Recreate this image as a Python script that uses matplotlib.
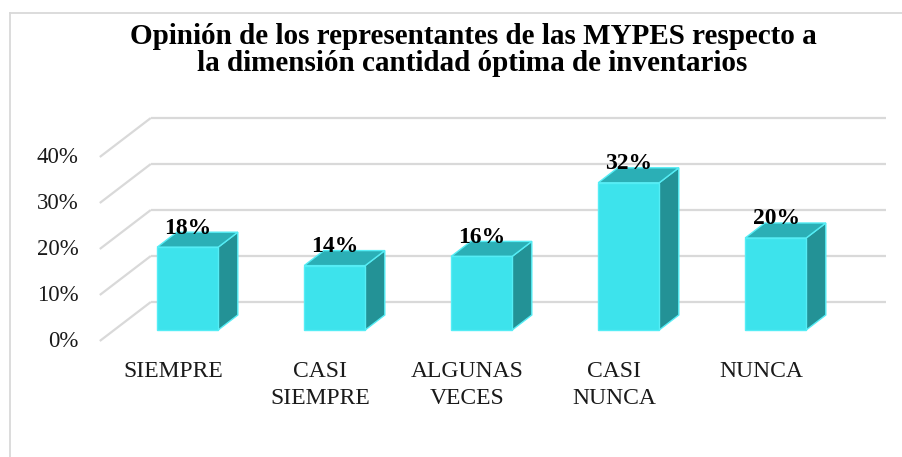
import matplotlib
matplotlib.use("Agg")
import matplotlib.pyplot as plt
from matplotlib.patches import Polygon
from matplotlib.lines import Line2D

# ---- data ----
categories = ["SIEMPRE", "CASI\nSIEMPRE", "ALGUNAS\nVECES", "CASI\nNUNCA", "NUNCA"]
values = [18, 14, 16, 32, 20]
value_labels = ["18%", "14%", "16%", "32%", "20%"]
y_ticks = [0, 10, 20, 30, 40]
y_tick_labels = ["0%", "10%", "20%", "30%", "40%"]
title_lines = ["Opinión de los representantes de las MYPES respecto a",
               "la dimensión cantidad óptima de inventarios"]

# ---- layout (pixel geometry of the pseudo-3D projection) ----
W, H = 902, 457
X0_PX, CAT_PX = 173.3, 147.0      # front-plane pixel of category 0, px per category
Y0_PX, PCT_PX = 341.0, 4.6        # front-plane pixel of 0 %, px per percent
DX = 51.0 / CAT_PX                # full depth offset (category units)
DY = 39.0 / PCT_PX                # full depth offset (percent units)
F1, F2 = 0.282, 0.667             # bar front / back depth fractions
BW = 0.415                        # bar front width (category units)

FONT = "Liberation Serif"
front_c = "#3DE3EC"
top_c = "#2BAFB6"
side_c = "#239296"
edge_c = "#55EDF5"
grid_c = "#D9D9D9"

fig = plt.figure(figsize=(W / 100, H / 100), dpi=100)
ax = fig.add_axes([0, 0, 1, 1])
ax.set_xlim(-X0_PX / CAT_PX, (W - X0_PX) / CAT_PX)
ax.set_ylim((Y0_PX - H) / PCT_PX, Y0_PX / PCT_PX)
ax.axis("off")

# chart border (cropped at right and bottom)
bx = 9.5 / W
by = 1 - 12.7 / H
fig.add_artist(Line2D([bx, bx], [0, by], color=grid_c, lw=1.3, transform=fig.transFigure))
fig.add_artist(Line2D([bx, 1], [by, by], color=grid_c, lw=1.3, transform=fig.transFigure))

# gridlines: left wall slant + back wall horizontal
xl, xr = -0.5, 4.5
for t in y_ticks:
    ax.plot([xl, xl + DX], [t, t + DY], color=grid_c, lw=1.6, zorder=1, solid_capstyle="butt")
    ax.plot([xl + DX, xr + DX], [t + DY, t + DY], color=grid_c, lw=1.6, zorder=1, solid_capstyle="butt")

# y tick labels
for t, lab in zip(y_ticks, y_tick_labels):
    ax.text(xl - 0.145, t - 0.2, lab, ha="right", va="center", fontsize=16.5,
            family=FONT, color="#1a1a1a")

# bars
for i, v in enumerate(values):
    cx = i + F1 * DX
    x1, x2 = cx - BW / 2, cx + BW / 2
    y1 = F1 * DY
    ddx, ddy = (F2 - F1) * DX, (F2 - F1) * DY
    side = [(x2, y1), (x2 + ddx, y1 + ddy), (x2 + ddx, y1 + v + ddy), (x2, y1 + v)]
    top = [(x1, y1 + v), (x2, y1 + v), (x2 + ddx, y1 + v + ddy), (x1 + ddx, y1 + v + ddy)]
    front = [(x1, y1), (x2, y1), (x2, y1 + v), (x1, y1 + v)]
    for poly, c in ((side, side_c), (top, top_c), (front, front_c)):
        ax.add_patch(Polygon(poly, closed=True, facecolor=c, edgecolor=edge_c,
                             lw=1.0, joinstyle="miter", zorder=3))
    ax.text(cx + 0.003, v + F2 * DY - 0.3, value_labels[i], ha="center", va="baseline",
            fontsize=17, fontweight="bold", family=FONT, color="black", zorder=5)

# category labels (each line placed on its own baseline)
for i, lab in enumerate(categories):
    for k, line in enumerate(lab.split("\n")):
        ax.text(i, (Y0_PX - 377 - 27 * k) / PCT_PX, line, ha="center", va="baseline",
                fontsize=17, family=FONT, color="#1a1a1a")

# title
fig.text(473 / W, 1 - 43.5 / H, title_lines[0], ha="center", va="baseline",
         fontsize=21, fontweight="bold", family=FONT, color="black")
fig.text(472 / W, 1 - 71 / H, title_lines[1], ha="center", va="baseline",
         fontsize=21, fontweight="bold", family=FONT, color="black")

fig.savefig("out.png", dpi=100)
